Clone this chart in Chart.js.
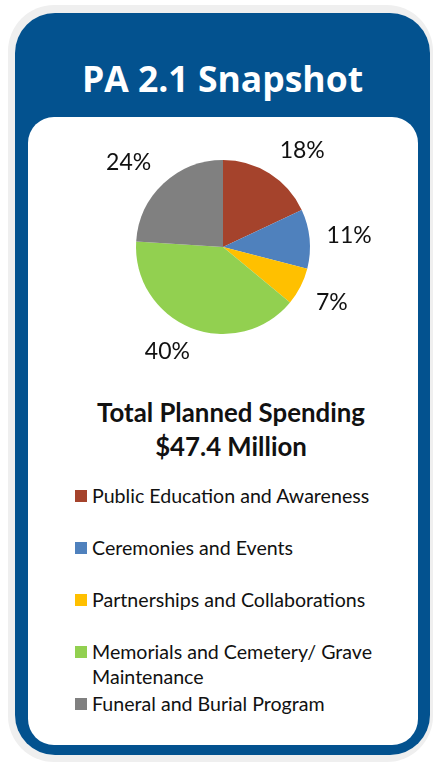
<!DOCTYPE html>
<html>
<head>
<meta charset="utf-8">
<title>PA 2.1 Snapshot</title>
<script src="https://cdn.jsdelivr.net/npm/chart.js@4"></script>
<style>
    html, body { margin: 0; padding: 0; background: #ffffff; }
    body { width: 433px; height: 764px; position: relative; overflow: hidden; font-family: Lato, "Open Sans", sans-serif; }
    .outer { position: absolute; left: 8px; top: 5px; width: 425px; height: 757px; background: #efefef; border-radius: 46px; }
    .frame { position: absolute; left: 15px; top: 13px; width: 415px; height: 742px; background: #03528f; border-radius: 40px; }
    h1 { position: absolute; left: 15px; top: 56px; width: 415px; margin: 0; text-align: center; color: #ffffff;
         font-family: "Open Sans", sans-serif; font-weight: 700; font-size: 35.5px; line-height: 44px; }
    .panel { position: absolute; left: 28px; top: 117px; width: 390px; height: 628px; background: #ffffff; border-radius: 26px; }
    .chart-box { position: absolute; left: 48px; top: 110px; width: 350px; height: 274px; }
    .total { position: absolute; left: 31px; top: 395px; width: 400px; text-align: center; font-weight: 700;
             font-size: 25.8px; line-height: 34px; color: #111111; }
    .legend { position: absolute; left: 75px; top: 483px; width: 330px; margin: 0; padding: 0; list-style: none; }
    .legend li { position: relative; padding-left: 17px; font-size: 19.6px; line-height: 25px; color: #111111; margin-bottom: 27px; }
    .legend li:nth-child(4) { margin-bottom: 2px; }
    .legend li span { position: absolute; left: 0; top: 7px; width: 12px; height: 12px; }
</style>
</head>
<body>
<div class="outer"></div>
<div class="frame"></div>
<h1>PA 2.1 Snapshot</h1>
<div class="panel"></div>
<div class="chart-box"><canvas id="snapshotChart"></canvas></div>
<div class="total">Total Planned Spending<br>$47.4 Million</div>
<ul class="legend" id="legend"></ul>

<script>
// Répartition des dépenses prévues (en % du total)
const categories = [
    'Public Education and Awareness',
    'Ceremonies and Events',
    'Partnerships and Collaborations',
    'Memorials and Cemetery/ Grave Maintenance',
    'Funeral and Burial Program'
];
const shares = [18, 11, 7, 40, 24];
const colors = ['#a5432c', '#4f81bd', '#ffc000', '#92d050', '#808080'];

// Étiquettes de pourcentage placées à l'extérieur de chaque part
const outsideLabels = {
    id: 'outsideLabels',
    afterDatasetsDraw(chart) {
        const ctx = chart.ctx;
        const data = chart.data.datasets[0].data;
        const total = data.reduce((a, b) => a + b, 0);
        ctx.save();
        ctx.font = '23px Lato, "Open Sans", sans-serif';
        ctx.fillStyle = '#111111';
        ctx.textAlign = 'center';
        ctx.textBaseline = 'middle';
        chart.getDatasetMeta(0).data.forEach((arc, i) => {
            const { x, y, startAngle, endAngle, outerRadius } = arc.getProps(['x', 'y', 'startAngle', 'endAngle', 'outerRadius'], true);
            const mid = (startAngle + endAngle) / 2;
            const r = outerRadius + 15;
            const ax = x + Math.cos(mid) * r;
            const ay = y + Math.sin(mid) * r;
            const text = Math.round(data[i] / total * 100) + '%';
            const w = ctx.measureText(text).width;
            const h = 20;
            const clamp = v => Math.max(-1, Math.min(1, v));
            const cx = ax + clamp(Math.cos(mid) * 2) * (w / 2 + 2);
            const cy = ay + clamp(Math.sin(mid) * 2) * h / 2;
            ctx.fillText(text, cx, cy);
        });
        ctx.restore();
    }
};

const ctx = document.getElementById('snapshotChart').getContext('2d');
const snapshotChart = new Chart(ctx, {
    type: 'pie',
    data: {
        labels: categories,
        datasets: [{
            data: shares,
            backgroundColor: colors,
            borderWidth: 0
        }]
    },
    options: {
        responsive: true,
        maintainAspectRatio: false,
        animation: false,
        layout: { padding: 50 },
        plugins: {
            legend: { display: false },
            tooltip: { enabled: false }
        }
    },
    plugins: [outsideLabels]
});

// Légende construite à partir des mêmes tableaux
const legend = document.getElementById('legend');
categories.forEach((label, i) => {
    const li = document.createElement('li');
    li.innerHTML = `<span style="background:${colors[i]}"></span>${label}`;
    legend.appendChild(li);
});
</script>
</body>
</html>
